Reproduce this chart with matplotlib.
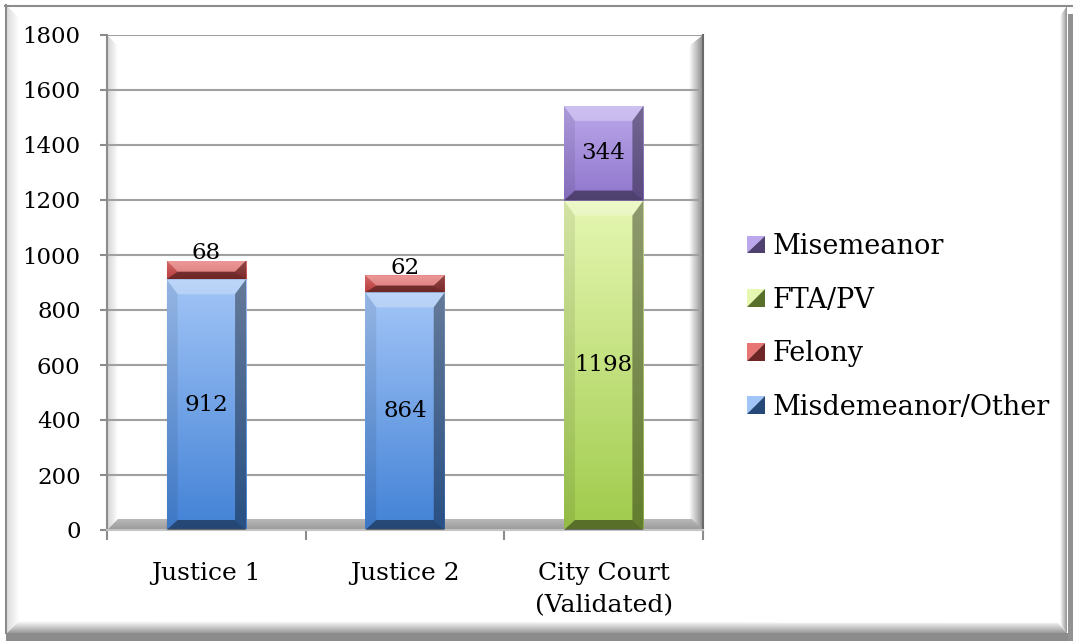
import numpy as np
import matplotlib
matplotlib.use('Agg')
import matplotlib.pyplot as plt
from matplotlib.patches import Polygon
from matplotlib.colors import to_rgb
from matplotlib.legend_handler import HandlerBase

# data
categories = ['Justice 1', 'Justice 2', 'City Court\n(Validated)']
misdemeanor_other = [912, 864, 0]
felony = [68, 62, 0]
fta_pv = [0, 0, 1198]
misemeanor = [0, 0, 344]
y_ticks = [0, 200, 400, 600, 800, 1000, 1200, 1400, 1600, 1800]

# name, values, (top colour, bottom colour) of the vertical gradient
series = [
    ('Misdemeanor/Other', misdemeanor_other, ('#a2c5f7', '#4382d6')),
    ('Felony', felony, ('#e87474', '#c84444')),
    ('FTA/PV', fta_pv, ('#e6f7b2', '#a0cb4c')),
    ('Misemeanor', misemeanor, ('#bba8ec', '#8f75cb')),
]

W, H = 1073, 641
L, R, T, B = 107, 703, 35, 530   # plot area in pixels

plt.rcParams['font.family'] = ['DejaVu Serif']


def mix(c, other, t):
    c, other = np.array(to_rgb(c)), np.array(to_rgb(other))
    return tuple(c * (1 - t) + other * t)


def gradient_fill(axis, clip, extent, c_lo, c_hi, vertical=True, z=1):
    n = 64
    t = np.linspace(0, 1, n)[:, None]
    cols = np.array(to_rgb(c_lo)) * (1 - t) + np.array(to_rgb(c_hi)) * t
    arr = cols[:, None, :] if vertical else cols[None, :, :]
    im = axis.imshow(arr, extent=extent, origin='lower', aspect='auto',
                     interpolation='bilinear', zorder=z)
    im.set_clip_path(clip)
    return im


def band(axis, verts, c_lo, c_hi, vertical, z=1):
    poly = Polygon(verts, closed=True, transform=axis.transData)
    xs = [v[0] for v in verts]
    ys = [v[1] for v in verts]
    gradient_fill(axis, poly, (min(xs), max(xs), min(ys), max(ys)),
                  c_lo, c_hi, vertical, z)


fig = plt.figure(figsize=(W / 100, H / 100), dpi=100)

# background axes in pixel coordinates (y down) for frame and walls
bg = fig.add_axes([0, 0, 1, 1])
bg.axis('off')

# outer frame
bg.plot([5, W], [5.5, 5.5], color='#8c8c8c', lw=1.5, zorder=3)
bg.plot([6, 6], [5, 633], color='#8c8c8c', lw=1.5, zorder=3)
band(bg, [(7, 6), (19, 18), (19, 621), (7, 633)], '#dcdcdc', '#ffffff', False)
band(bg, [(7, 633), (W - 6, 633), (W - 15, 623), (19, 621)], '#ffffff', '#9a9a9a', True)
band(bg, [(W - 6, 6), (W - 6, 633), (W - 13, 624), (W - 13, 16)], '#ffffff', '#939393', False)
bg.fill_between([6, W], 633, H, color='#8c8c8c', lw=0, zorder=2)
bg.fill_between([W - 5, W], 14, H, color='#929292', lw=0, zorder=2)

# plot area walls and floor
d = 11
band(bg, [(L, T), (L + d, T + d), (L + d, B - d), (L, B)], '#d2d2d2', '#ffffff', False)
band(bg, [(R, T), (R, B), (R - d - 3, B - d), (R - d - 3, T + d)], '#ffffff', '#8a8a8a', False)
band(bg, [(L, B), (R, B), (R - d, B - d), (L + d, B - d)], '#b8b8b8', '#9a9a9a', True)
bg.set_xlim(0, W)
bg.set_ylim(H, 0)

ax = fig.add_axes([L / W, (H - B) / H, (R - L) / W, (B - T) / H])
ax.set_facecolor('none')
ax.set_zorder(1)

x = np.arange(len(categories))
width = 0.4
xlim = (-0.5, len(categories) - 0.5)
ylim = (0, 1800)
px_x = (xlim[1] - xlim[0]) / (R - L)   # data units per pixel
px_y = (ylim[1] - ylim[0]) / (B - T)
bs, bt, bb = 11 * px_x, 15 * px_y, 10 * px_y

bottoms = np.zeros(len(categories))
handles = []
for name, vals, (c_top, c_bot) in series:
    vals = np.array(vals, dtype=float)
    bars = ax.bar(x, vals, width=width, bottom=bottoms, color=c_bot,
                  lw=0, zorder=2)
    for rect, v in zip(bars, vals):
        if v <= 0:
            continue
        x0, y0 = rect.get_x(), rect.get_y()
        x1, y1 = x0 + rect.get_width(), y0 + rect.get_height()
        gradient_fill(ax, rect, (x0, x1, y0, y1), c_bot, c_top, True, 2.1)
        ht, hb = bt, bb
        if ht + hb > (y1 - y0):
            s = (y1 - y0) / (ht + hb)
            ht, hb = ht * s, hb * s
        xi0, xi1 = x0 + bs, x1 - bs
        top = [(x0, y1), (x1, y1), (xi1, y1 - ht), (xi0, y1 - ht)]
        bot = [(x0, y0), (x1, y0), (xi1, y0 + hb), (xi0, y0 + hb)]
        left = [(x0, y0), (xi0, y0 + hb), (xi0, y1 - ht), (x0, y1)]
        right = [(x1, y0), (xi1, y0 + hb), (xi1, y1 - ht), (x1, y1)]
        ax.add_patch(Polygon(top, fc='white', alpha=0.28, lw=0, zorder=3))
        ax.add_patch(Polygon(bot, fc='black', alpha=0.45, lw=0, zorder=3))
        ax.add_patch(Polygon(left, fc='black', alpha=0.08, lw=0, zorder=3))
        ax.add_patch(Polygon(right, fc='black', alpha=0.38, lw=0, zorder=3))
        if (y1 - y0) > 100:
            ax.text(rect.get_x() + rect.get_width() / 2, (y0 + y1) / 2,
                    f'{int(v)}', ha='center', va='center', fontsize=16.5, zorder=5)
        else:
            ax.text(rect.get_x() + rect.get_width() / 2, y1 + 28,
                    f'{int(v)}', ha='center', va='center', fontsize=16.5, zorder=5)
    bottoms += vals
    handles.append((name, c_top, c_bot))

ax.set_xlim(*xlim)
ax.set_ylim(*ylim)
ax.set_yticks(y_ticks)
ax.yaxis.grid(True, color='#a0a0a0', lw=1.5, zorder=1)
ax.set_axisbelow(True)
ax.set_xticks(x)
ax.set_xticklabels(categories, fontsize=18, linespacing=1.5)
ax.set_xticks(np.arange(len(categories) + 1) - 0.5, minor=True)
ax.tick_params(axis='x', which='major', length=0, pad=23)
ax.tick_params(axis='x', which='minor', length=7.5, width=1.5, color='#8c8c8c')
ax.tick_params(axis='y', length=5, width=1.5, color='#8c8c8c', pad=14, labelsize=16.5)
ax.spines['top'].set_visible(False)
ax.spines['left'].set_color('#8c8c8c')
ax.spines['left'].set_linewidth(1.5)
ax.spines['bottom'].set_color('#c4c4c4')
ax.spines['bottom'].set_linewidth(1.5)
ax.spines['right'].set_color('#6a6a6a')
ax.spines['right'].set_linewidth(1.5)


class Swatch:
    def __init__(self, light, dark):
        self.light, self.dark = light, dark


class BevelHandler(HandlerBase):
    def create_artists(self, legend, orig_handle, xdescent, ydescent,
                       width, height, fontsize, trans):
        s = min(width, height)
        x0 = -xdescent + (width - s) / 2
        y0 = -ydescent + (height - s) / 2
        t1 = Polygon([(x0, y0), (x0, y0 + s), (x0 + s, y0 + s)],
                     fc=orig_handle.light, lw=0, transform=trans)
        t2 = Polygon([(x0, y0), (x0 + s, y0), (x0 + s, y0 + s)],
                     fc=orig_handle.dark, lw=0, transform=trans)
        return [t1, t2]


leg_handles = [Swatch(c_top, mix(c_bot, 'black', 0.45)) for _, c_top, c_bot in handles][::-1]
leg_labels = [name for name, _, _ in handles][::-1]
fig.legend(leg_handles, leg_labels, handler_map={Swatch: BevelHandler()},
           loc='center left', bbox_to_anchor=(747 / W, (H - 327) / H),
           frameon=False, fontsize=19.5, borderpad=0, borderaxespad=0,
           handlelength=0.65, handleheight=0.65, handletextpad=0.3,
           labelspacing=0.98)

fig.savefig('out.png', dpi=100)
